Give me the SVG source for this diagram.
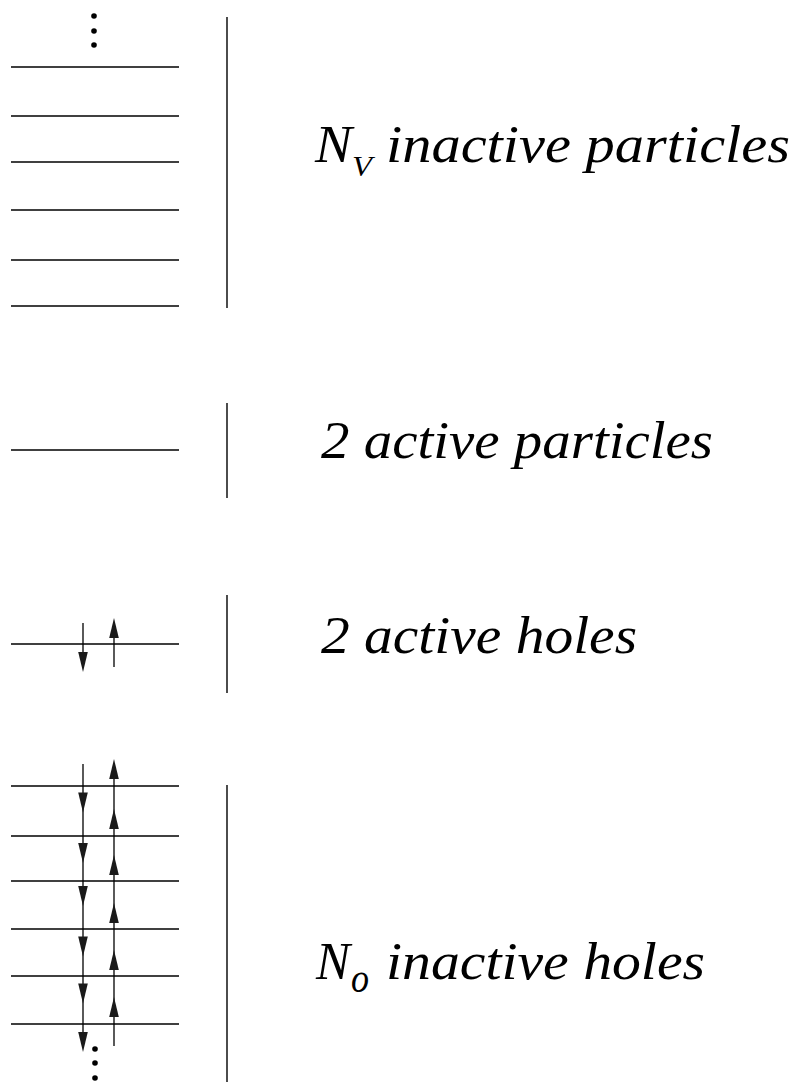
<svg xmlns="http://www.w3.org/2000/svg" width="795" height="1084" viewBox="0 0 795 1084">
<style>
.lv{stroke:#000;stroke-width:1.3;fill:none}
.sep{stroke:#000;stroke-width:1.4;fill:none}
.ar{fill:#1a1a1a;stroke:none}
.dot{fill:#000}
.t{font-family:"Liberation Serif","Times New Roman",serif;font-style:italic;fill:#000}
</style>
<defs>
<polygon id="dn" class="ar" points="-4.8,0 4.8,0 0,20"/>
<polygon id="up" class="ar" points="-4.8,0 4.8,0 0,-20"/>
</defs>
<rect width="795" height="1084" fill="#fff"/>
<g id="inactive-particles">
<circle class="dot" cx="94" cy="16" r="2.8"/>
<circle class="dot" cx="94" cy="31" r="2.8"/>
<circle class="dot" cx="94" cy="45" r="2.8"/>
<line class="lv" x1="11" y1="67" x2="179" y2="67"/>
<line class="lv" x1="11" y1="116" x2="179" y2="116"/>
<line class="lv" x1="11" y1="162" x2="179" y2="162"/>
<line class="lv" x1="11" y1="210" x2="179" y2="210"/>
<line class="lv" x1="11" y1="260" x2="179" y2="260"/>
<line class="lv" x1="11" y1="306" x2="179" y2="306"/>
<line class="sep" x1="227" y1="17" x2="227" y2="308"/>
<text class="t" x="315" y="162" font-size="52" textLength="37" lengthAdjust="spacingAndGlyphs">N</text>
<text class="t" x="352" y="176" font-size="30" textLength="20" lengthAdjust="spacingAndGlyphs">V</text>
<text class="t" x="386" y="162" font-size="52" textLength="404" lengthAdjust="spacingAndGlyphs">inactive particles</text>
</g>
<g id="active-particles">
<line class="lv" x1="11" y1="450" x2="179" y2="450"/>
<line class="sep" x1="227" y1="403" x2="227" y2="498"/>
<text class="t" x="321" y="458" font-size="52" textLength="392" lengthAdjust="spacingAndGlyphs">2 active particles</text>
</g>
<g id="active-holes">
<line class="lv" x1="11" y1="644" x2="179" y2="644"/>
<line class="lv" x1="83" y1="623" x2="83" y2="660"/>
<use href="#dn" x="83" y="652"/>
<line class="lv" x1="114" y1="630" x2="114" y2="667"/>
<use href="#up" x="114" y="638"/>
<line class="sep" x1="227" y1="595" x2="227" y2="693"/>
<text class="t" x="321" y="653" font-size="52" textLength="316" lengthAdjust="spacingAndGlyphs">2 active holes</text>
</g>
<g id="inactive-holes">
<line class="lv" x1="11" y1="786" x2="179" y2="786"/>
<line class="lv" x1="11" y1="836" x2="179" y2="836"/>
<line class="lv" x1="11" y1="881" x2="179" y2="881"/>
<line class="lv" x1="11" y1="929" x2="179" y2="929"/>
<line class="lv" x1="11" y1="976" x2="179" y2="976"/>
<line class="lv" x1="11" y1="1024" x2="179" y2="1024"/>
<line class="sep" x1="227" y1="785" x2="227" y2="1082"/>
<circle class="dot" cx="95" cy="1049" r="2.8"/>
<circle class="dot" cx="95" cy="1063" r="2.8"/>
<circle class="dot" cx="95" cy="1078" r="2.8"/>
<text class="t" x="316" y="979" font-size="52" textLength="34" lengthAdjust="spacingAndGlyphs">N</text>
<text class="t" x="351" y="992" font-size="42" textLength="18" lengthAdjust="spacingAndGlyphs">o</text>
<text class="t" x="386" y="979" font-size="52" textLength="319" lengthAdjust="spacingAndGlyphs">inactive holes</text>
</g>
<g id="connectors">
<line class="lv" x1="83" y1="764" x2="83" y2="1040"/>
<use href="#dn" x="83" y="792.5"/>
<use href="#dn" x="83" y="843"/>
<use href="#dn" x="83" y="886"/>
<use href="#dn" x="83" y="936.5"/>
<use href="#dn" x="83" y="983.5"/>
<use href="#dn" x="83" y="1032"/>
<line class="lv" x1="114" y1="770" x2="114" y2="1046"/>
<use href="#up" x="114" y="779"/>
<use href="#up" x="114" y="829"/>
<use href="#up" x="114" y="875"/>
<use href="#up" x="114" y="923"/>
<use href="#up" x="114" y="970"/>
<use href="#up" x="114" y="1017"/>
</g>
</svg>
